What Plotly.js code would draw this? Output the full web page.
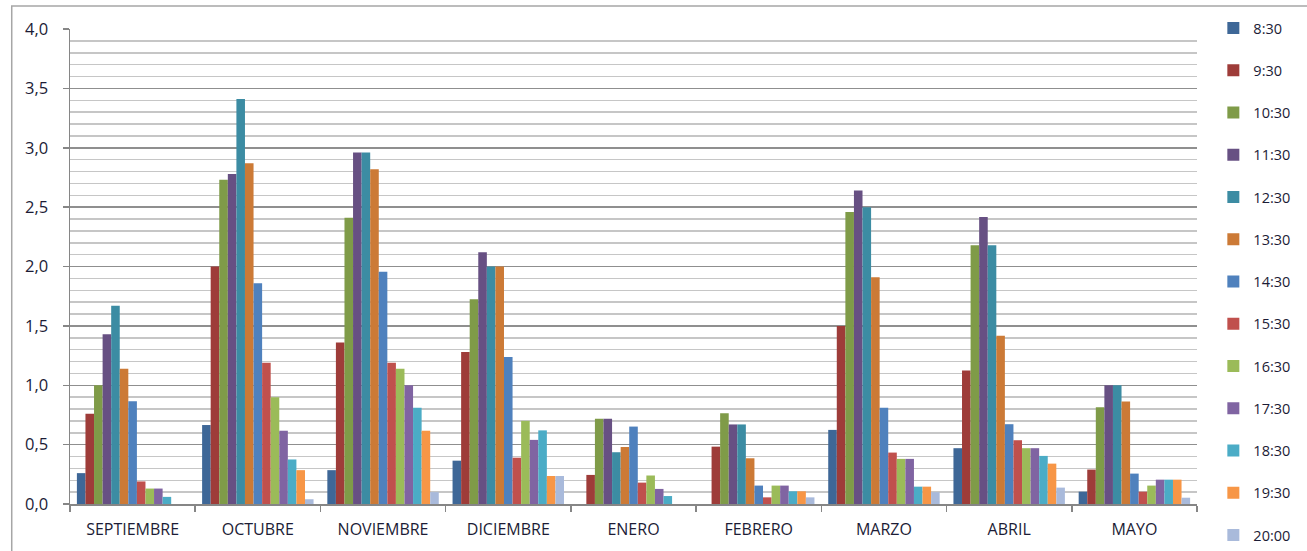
<!DOCTYPE html>
<html>
<head>
<meta charset="utf-8">
<script src="https://cdn.plot.ly/plotly-3.0.1.min.js"></script>
<style>html,body{margin:0;padding:0;background:#fff;}#chart{width:1307px;height:551px;}</style>
</head>
<body>
<div id="chart"></div>
<script>
const months = ["SEPTIEMBRE","OCTUBRE","NOVIEMBRE","DICIEMBRE","ENERO","FEBRERO","MARZO","ABRIL","MAYO"];
const seriesNames = ["8:30","9:30","10:30","11:30","12:30","13:30","14:30","15:30","16:30","17:30","18:30","19:30","20:00"];

const s0830 = [0.26, 0.665, 0.285, 0.365, 0, 0, 0.624, 0.47, 0.104];
const s0930 = [0.76, 2.00, 1.36, 1.28, 0.245, 0.483, 1.50, 1.124, 0.29];
const s1030 = [1.00, 2.73, 2.41, 1.725, 0.717, 0.764, 2.46, 2.18, 0.815];
const s1130 = [1.43, 2.78, 2.96, 2.12, 0.717, 0.67, 2.64, 2.417, 1.00];
const s1230 = [1.67, 3.41, 2.96, 2.00, 0.436, 0.67, 2.50, 2.18, 1.00];
const s1330 = [1.14, 2.87, 2.82, 2.00, 0.48, 0.385, 1.91, 1.417, 0.863];
const s1430 = [0.865, 1.86, 1.956, 1.237, 0.652, 0.155, 0.81, 0.672, 0.256];
const s1530 = [0.19, 1.19, 1.19, 0.39, 0.18, 0.056, 0.433, 0.537, 0.104];
const s1630 = [0.13, 0.90, 1.14, 0.70, 0.24, 0.155, 0.38, 0.47, 0.155];
const s1730 = [0.13, 0.617, 1.00, 0.54, 0.127, 0.155, 0.38, 0.47, 0.205];
const s1830 = [0.06, 0.375, 0.81, 0.62, 0.067, 0.107, 0.146, 0.405, 0.205];
const s1930 = [0, 0.285, 0.617, 0.236, 0, 0.107, 0.146, 0.34, 0.205];
const s2000 = [0, 0.04, 0.10, 0.236, 0, 0.056, 0.10, 0.138, 0.053];

const seriesValues = [s0830,s0930,s1030,s1130,s1230,s1330,s1430,s1530,s1630,s1730,s1830,s1930,s2000];
const colors = ["#3E6797","#9E3C39","#7F9B48","#675083","#3C8CA3","#CC7A36","#4F81BD","#C0504D","#9BBB59","#8064A2","#4BACC6","#F79646","#A9BADB"];

const traces = seriesNames.map((n,i)=>({
  type:"bar",
  name:n,
  x:months,
  y:seriesValues[i],
  marker:{color:colors[i], line:{width:0}},
  legendgroup:"g"+i,
  hoverinfo:"x+y+name"
}));

const font = "'Open Sans', sans-serif";
const txt = "#1c1c36";
const layout = {
  width:1307, height:551,
  margin:{l:70, r:96, t:29, b:47},
  paper_bgcolor:"#fff", plot_bgcolor:"#fff",
  separators:",.",
  barmode:"group",
  bargap:0.11,
  bargroupgap:0,
  showlegend:true,
  font:{family:font, size:14, color:txt},
  legend:{
    x:1.0145, xanchor:"left", y:1.021, yanchor:"top",
    tracegroupgap:20.4,
    maxheight:1,
    font:{family:font, size:14.5, color:txt},
    bgcolor:"rgba(0,0,0,0)"
  },
  xaxis:{
    type:"category",
    showline:true, linecolor:"#868686", linewidth:1.5,
    ticks:"outside", tickson:"boundaries", ticklen:6, tickcolor:"#868686", tickwidth:1.5,
    ticklabelstandoff:10,
    showgrid:false,
    tickfont:{family:font, size:16, color:txt},
    automargin:false
  },
  yaxis:{
    range:[0,4], dtick:0.5, tickformat:".1f",
    showline:true, linecolor:"#868686", linewidth:1.5,
    ticks:"outside", ticklen:6, tickcolor:"#868686", tickwidth:1.5,
    ticklabelstandoff:11,
    showgrid:true, gridcolor:"#8f8f8f", gridwidth:1.5,
    zeroline:false,
    minor:{dtick:0.1, showgrid:true, gridcolor:"#c6c6c6", gridwidth:1.5, ticks:""},
    tickfont:{family:font, size:16.5, color:txt},
    automargin:false
  },
  shapes:[{
    type:"rect", xref:"paper", yref:"paper",
    x0:-0.0517, x1:1.2, y0:-0.3, y1:1.0484,
    line:{color:"#a6a6a6", width:1.5}, fillcolor:"rgba(0,0,0,0)", layer:"below"
  }]
};

Plotly.newPlot("chart", traces, layout, {displayModeBar:false, staticPlot:true});
</script>
</body>
</html>
